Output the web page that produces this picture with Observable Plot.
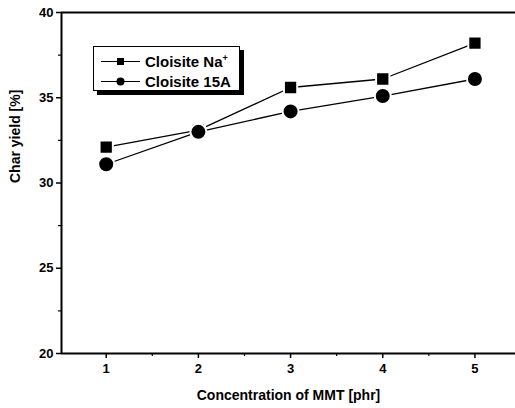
<!DOCTYPE html>
<html><head><meta charset="utf-8">
<script src="https://cdn.jsdelivr.net/npm/d3@7"></script>
<script src="https://cdn.jsdelivr.net/npm/@observablehq/plot@0.6"></script>
<style>
body{margin:0;background:#fff;font-family:"Liberation Sans",Arial,sans-serif;}
#wrap{position:relative;width:515px;height:408px;}
#legend{position:absolute;left:93px;top:46px;width:145px;height:43px;border:1.5px solid #000;background:#fff;box-shadow:4px 4px 0 #000;font-weight:bold;font-size:15px;}
.row{position:absolute;left:6px;height:18px;display:flex;align-items:center;}
.row svg{margin-right:4px;}
</style></head>
<body><div id="wrap"></div>
<script>
const conc = [1, 2, 3, 4, 5];
const naValues = [32.1, 33.1, 35.6, 36.1, 38.2];
const a15Values = [31.1, 33.0, 34.2, 35.1, 36.1];
const seriesNames = ["Cloisite Na+", "Cloisite 15A"];
const yTicks = [20, 25, 30, 35, 40];
const yMinor = [22.5, 27.5, 32.5, 37.5];
const xTicks = [1, 2, 3, 4, 5];
const xMinor = [1.5, 2.5, 3.5, 4.5];

const na = conc.map((c, i) => ({x: c, y: naValues[i]}));
const a15 = conc.map((c, i) => ({x: c, y: a15Values[i]}));
const xDom = [0.515, 5.44];

const chart = Plot.plot({
  width: 515, height: 408,
  marginTop: 12, marginBottom: 55, marginLeft: 61, marginRight: 0,
  style: {fontFamily: "Liberation Sans, Arial, sans-serif", background: "#fff"},
  x: {domain: xDom},
  y: {domain: [20, 40]},
  marks: [
    Plot.axisY({ticks: yTicks, tickFormat: "d", tickSize: 5, tickPadding: 3, fontSize: 13, fontWeight: "bold", strokeWidth: 1.5, label: null}),
    Plot.axisY({ticks: yMinor, tickSize: 3, text: null, strokeWidth: 1.2, label: null}),
    Plot.axisX({ticks: xTicks, tickFormat: "d", tickSize: 5, tickPadding: 5, fontSize: 13, fontWeight: "bold", strokeWidth: 1.5, label: null}),
    Plot.axisX({ticks: xMinor, tickSize: 3, text: null, strokeWidth: 1.2, label: null}),
    Plot.ruleX([xDom[0]], {strokeWidth: 2}),
    Plot.ruleY([20, 40], {strokeWidth: 2}),
    Plot.line(na, {x: "x", y: "y", stroke: "#000", strokeWidth: 1.3}),
    Plot.line(a15, {x: "x", y: "y", stroke: "#000", strokeWidth: 1.3}),
    Plot.dot(na, {x: "x", y: "y", symbol: "square", r: 7.5, fill: "#000", stroke: "#fff", strokeWidth: 2}),
    Plot.dot(a15, {x: "x", y: "y", symbol: "circle", r: 8, fill: "#000", stroke: "#fff", strokeWidth: 2}),
    Plot.text(["Char yield [%]"], {frameAnchor: "left", dx: -46, rotate: -90, fontSize: 14, fontWeight: "bold"}),
    Plot.text(["Concentration of MMT [phr]"], {frameAnchor: "bottom", dy: 46, fontSize: 14, fontWeight: "bold"})
  ]
});
const wrap = document.getElementById("wrap");
wrap.appendChild(chart);

const leg = document.createElement("div");
leg.id = "legend";
const syms = [
  '<rect x="17" y="5" width="7" height="7" fill="#000"/>',
  '<circle cx="20.5" cy="8.5" r="4" fill="#000"/>'
];
const labels = ["Cloisite Na<sup style=\"font-size:9px\">+</sup>", "Cloisite 15A"];
labels.forEach((l, i) => {
  const r = document.createElement("div");
  r.className = "row";
  r.style.top = (5 + i * 20) + "px";
  r.innerHTML = '<svg width="41" height="17"><line x1="1" y1="8.5" x2="40" y2="8.5" stroke="#000" stroke-width="1.2"/>' + syms[i] + '</svg><span>' + l + '</span>';
  leg.appendChild(r);
});
wrap.appendChild(leg);
</script></body></html>
